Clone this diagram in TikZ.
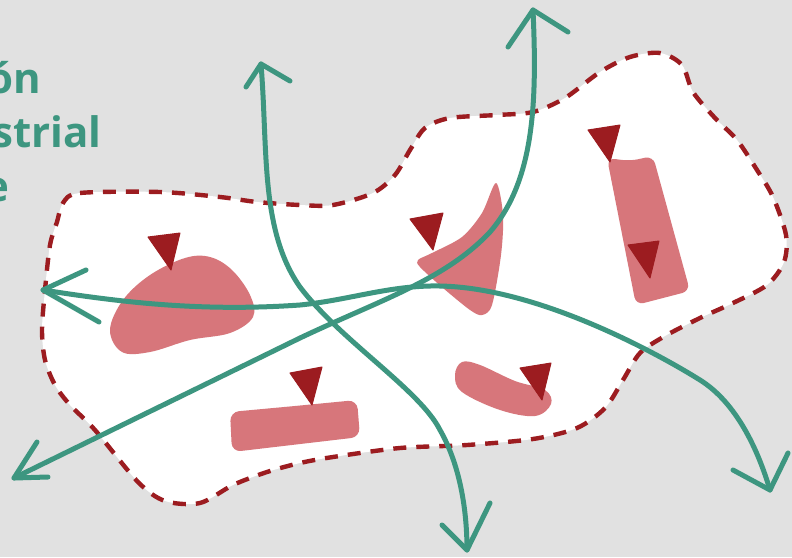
\documentclass[tikz,border=0pt]{standalone}
\usepackage{fontspec}
\setmainfont{Open Sans}
\definecolor{bggrey}{HTML}{E1E1E1}
\definecolor{zonered}{HTML}{9C1C20}
\definecolor{plotpink}{HTML}{D7767B}
\definecolor{flowgreen}{HTML}{3D9680}
\tikzset{
  zoneborder/.style={draw=zonered, fill=white, line width=4.4pt, dash pattern=on 13pt off 10pt},
  plotshape/.style={fill=plotpink},
  marker/.style={fill=zonered, draw=zonered, line width=1pt, line join=round},
  flow/.style={draw=flowgreen, line width=5pt, line cap=round, line join=round},
  headline/.style={text=flowgreen, font=\bfseries\fontsize{42}{50}\selectfont, inner sep=0pt, anchor=base east}
}
\begin{document}
\begin{tikzpicture}[x=1pt,y=-1pt]
\useasboundingbox (0,0) rectangle (792,557);
\fill[bggrey] (0,0) rectangle (792,557);
\begin{scope}
\clip (0,0) rectangle (792,557);
\node[headline] (t1) at (41,93) {ón};
\node[headline] (t2) at (102,147) {ustrial};
\node[headline] (t3) at (10,201) {e};

% zone outline
\path[zoneborder] plot[smooth cycle, tension=0.5] coordinates {
 (63,203) (80,193) (160,192) (220,197) (257,202) (300,205) (333,205)
 (373,193) (395,175) (410,150) (425,128) (450,118) (497,115) (533,112)
 (565,98) (600,72) (630,57) (660,53) (682,65) (693,92) (715,118)
 (737,140) (757,170) (773,197) (786,235) (784,262) (767,285) (733,303)
 (700,318) (665,336) (640,353) (623,380) (605,408) (577,428) (533,439)
 (467,445) (400,448) (333,457) (300,463) (267,472) (233,485) (200,503)
 (165,501) (138,482) (95,430) (70,405) (55,385) (45,360) (42,330)
 (45,290) (50,245) (57,222)};

% pink plots
\path[plotshape] plot[smooth cycle, tension=0.6] coordinates {
 (110,330) (122,352) (150,352) (190,340) (230,333) (253,317) (250,295)
 (232,270) (210,257) (185,258) (150,275) (123,300)};
\path[plotshape, rounded corners=9pt] (295,406) -- (357,400) -- (360,437) -- (232,452) -- (230,412) -- cycle;
\path[plotshape] plot[smooth cycle, tension=0.6] coordinates {
 (462,362) (455,375) (462,392) (500,410) (535,416) (551,404) (545,390)
 (515,381) (480,365)};
\path[plotshape] plot[smooth cycle, tension=0.5] coordinates {
 (496,183) (503,215) (501,255) (492,305) (482,315) (470,310) (443,288)
 (420,267) (418,260) (432,253) (462,237) (482,213)};
\path[plotshape, rounded corners=8pt] (630,161) -- (653,156) -- (690,291) -- (636,305) -- (607,158) -- cycle;

% markers
\path[marker] (148,237) -- (180,233) -- (171,270) -- cycle;
\path[marker] (290,373) -- (322,367) -- (312,405) -- cycle;
\path[marker] (520,368) -- (551,363) -- (542,400) -- cycle;
\path[marker] (410,219) -- (443,213) -- (433,250) -- cycle;
\path[marker] (588,130) -- (620,125) -- (610,162) -- cycle;
\path[marker] (628,245) -- (659,241) -- (650,278) -- cycle;

% flows
\coordinate (aTop) at (261,64);
\coordinate (aBot) at (467,550);
\coordinate (bTop) at (533,10);
\coordinate (bBot) at (14,478);
\coordinate (cLeft) at (43,290);
\coordinate (cRight) at (770,490);

\draw[flow] (aTop) .. controls (268,150) and (260,230) .. (300,287)
  .. controls (340,340) and (420,390) .. (440,430)
  .. controls (460,465) and (467,510) .. (aBot);
\draw[flow] (bTop) .. controls (537,100) and (535,180) .. (490,232)
  .. controls (445,280) and (380,300) .. (300,338) -- (bBot);
\draw[flow] (cLeft) .. controls (120,302) and (200,312) .. (300,305)
  .. controls (350,300) and (390,285) .. (440,286)
  .. controls (540,288) and (660,355) .. (700,380)
  .. controls (732,400) and (755,440) .. (cRight);

% arrow heads
\draw[flow] (246,87) -- (aTop) -- (290,81);
\draw[flow] (442,525) -- (aBot) -- (490,503);
\draw[flow] (508,47) -- (bTop) -- (568,32);
\draw[flow] (37,442) -- (bBot) -- (48,477);
\draw[flow] (86,270) -- (cLeft) -- (99,322);
\draw[flow] (733,470) -- (cRight) -- (788,453);
\end{scope}
\end{tikzpicture}
\end{document}
